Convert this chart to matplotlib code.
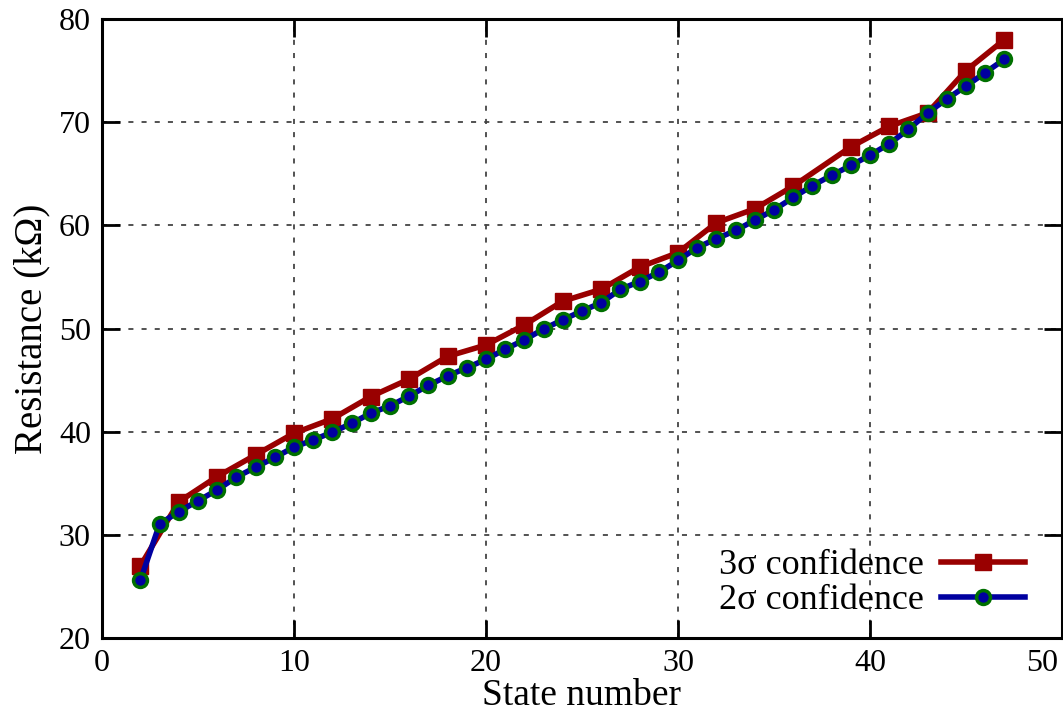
import matplotlib
matplotlib.use('Agg')
import matplotlib.pyplot as plt
import matplotlib.transforms as mtransforms

# 2 sigma confidence: every state from 2 to 47
states_2s = list(range(2, 48))
res_2s = [25.6, 31.05, 32.25, 33.3, 34.35, 35.6, 36.55, 37.5, 38.5, 39.2,
          39.95, 40.8, 41.8, 42.5, 43.45, 44.5, 45.4, 46.2, 47.0, 48.0,
          48.9, 49.95, 50.85, 51.7, 52.5, 53.8, 54.55, 55.45, 56.6, 57.85,
          58.7, 59.5, 60.5, 61.5, 62.7, 63.85, 64.85, 65.8, 66.8, 67.9,
          69.3, 70.9, 72.25, 73.5, 74.8, 76.1]

# 3 sigma confidence
states_3s = [2, 4, 6, 8, 10, 12, 14, 16, 18, 20, 22, 24, 26, 28, 30, 32, 34, 36,
             39, 41, 43, 45, 47]
res_3s = [27.0, 33.2, 35.65, 37.75, 39.85, 41.25, 43.4, 45.1, 47.3, 48.4,
          50.35, 52.65, 53.8, 55.95, 57.35, 60.25, 61.6, 63.8,
          67.6, 69.6, 70.9, 75.0, 78.0]

plt.rcParams['font.family'] = ['Liberation Serif', 'DejaVu Serif']

fig = plt.figure(figsize=(10.63, 7.2), dpi=100)
ax = fig.add_axes([102 / 1063, 1 - 638 / 720, 960 / 1063, 619 / 720])

ax.plot(states_3s, res_3s, color='#990000', lw=4, marker='s', ms=11,
        mfc='#990000', mec='#990000', label='3σ confidence', zorder=3)
ax.plot(states_2s, res_2s, color='#0000a0', lw=4, marker='o', ms=10,
        mfc='#0000a0', mec='#007000', mew=2.5, label='2σ confidence', zorder=4)

ax.set_xlim(0, 50)
ax.set_ylim(20, 80)
ax.set_xticks([0, 10, 20, 30, 40, 50])
ax.set_yticks([20, 30, 40, 50, 60, 70, 80])
ax.grid(True, ls=(0, (2.8, 4.5)), color='#444444', lw=1.3)
ax.set_axisbelow(True)
ax.tick_params(direction='in', length=13, width=2, labelsize=23,
               top=True, right=True, pad=8)
for s in ax.spines.values():
    s.set_linewidth(2.2)

# keep the last x label inside the picture
last = ax.get_xticklabels()[-1]
last.set_transform(last.get_transform() +
                   mtransforms.ScaledTranslation(-0.2, 0, fig.dpi_scale_trans))

ax.set_xlabel('State number', fontsize=27, labelpad=0)
ax.set_ylabel('Resistance (kΩ)', fontsize=28, labelpad=6)

ax.legend(loc='lower right', bbox_to_anchor=(0.976, 0.01), frameon=False,
          markerfirst=False, fontsize=26, handlelength=2.3,
          handletextpad=0.5, labelspacing=0.05, borderaxespad=0)

fig.savefig('out.png', dpi=100)
